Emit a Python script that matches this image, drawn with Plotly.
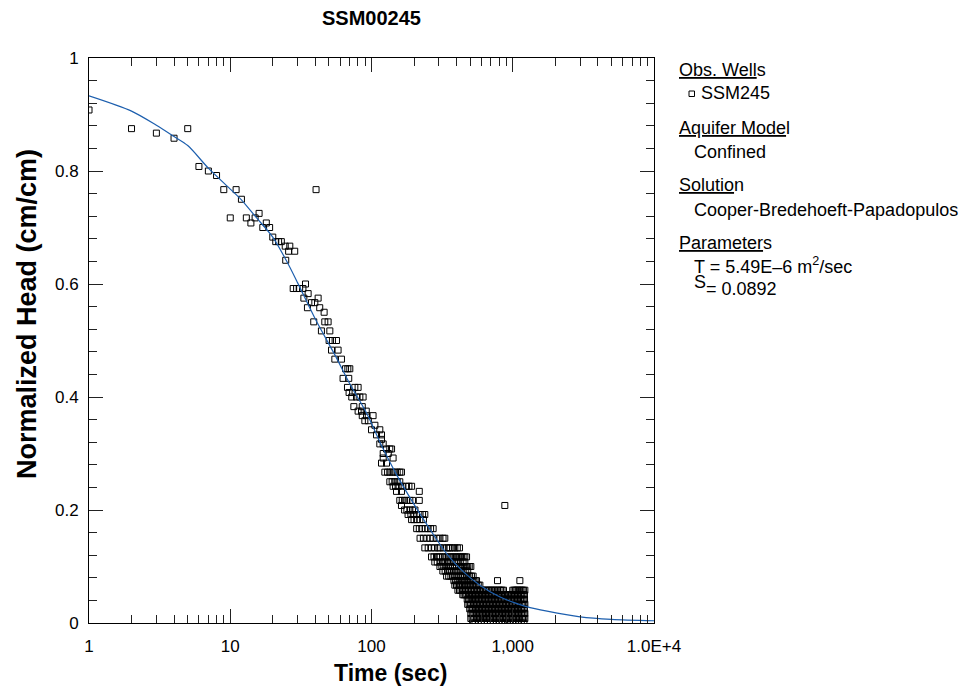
import plotly.graph_objects as go

# ---------------- data ----------------
early_time = [1, 2, 3, 4, 5, 6, 7, 8, 9, 10, 11, 12, 13, 14, 15, 16, 17, 18, 19, 20, 21, 22, 23, 40.5]
early_head = [0.908, 0.875, 0.867, 0.858, 0.875, 0.808, 0.800, 0.792, 0.767, 0.717, 0.767, 0.750,
              0.717, 0.708, 0.717, 0.725, 0.700, 0.708, 0.700, 0.683, 0.675, 0.675, 0.675, 0.767]

band_head = [0.667, 0.658, 0.642, 0.600, 0.592, 0.583, 0.575, 0.567, 0.558, 0.550, 0.533, 0.517,
             0.500, 0.483, 0.467, 0.450, 0.433, 0.417, 0.408, 0.400, 0.383, 0.375, 0.367, 0.358,
             0.350, 0.342, 0.333, 0.325, 0.317, 0.308, 0.300, 0.292, 0.283, 0.267, 0.250, 0.242,
             0.233, 0.217, 0.208, 0.200, 0.192, 0.183, 0.167, 0.150, 0.133, 0.117, 0.108, 0.100,
             0.092, 0.083, 0.075, 0.067, 0.058, 0.050, 0.042, 0.033, 0.025, 0.017, 0.008, 0.000]

band_times = [
    [24.5, 26.4], [25.9, 28.6], [24.7], [34.1], [27.9, 29.5, 31.0, 32.7], [35.6], [33.2, 41.9],
    [37.6, 39.7], [35.2, 43.0], [46.2], [39.0, 46.7, 49.3], [44.2, 50.7], [50.1, 52.9, 56.5],
    [52.1, 58.0], [55.0, 61.3], [65.5, 68.0, 70.2], [62.9, 69.0], [67.6, 76.2, 80.4], [69.4, 73.5],
    [72.5, 78.3, 82.7, 87.2], [75.0, 86.0], [80.4, 85.0, 91.8], [86.0, 92.2, 102.6], [89.7, 95.0],
    [105.7], [100.0, 114.5], [108.5, 117.7], [117.7], [114.5, 121.0], [127.7, 134.8, 138.7],
    [121.0, 131.4], [121.0, 142.2], [117.7, 127.7],
    [124.3, 130, 134.8, 140, 146.1, 152, 158.6, 163.0],
    [134.8, 140, 146.1, 152, 158.6],
    [142.2, 148, 154.3, 165, 176.8, 184, 192.2],
    [150.3, 163.0, 217.9],
    [158.6, 165, 171.5, 178, 186.8, 195, 217.9],
    [163.0, 879],
    [171.5, 178, 186.8, 195, 203.0],
    [181.5, 190, 197.5, 208, 220.7, 230, 238.5],
    [192.2, 200, 208.8, 220, 233.2],
    [208.8, 218, 226.9, 240, 251.6, 262, 273.1],
    [220.7, 233, 246.4, 260, 273.1, 290, 305, 321.0, 330.4],
    [238.5, 252, 266.0, 280, 296.3, 305.0, 322, 339.8, 350, 360.0, 375, 389.0, 405, 420.0],
    [266.0, 277, 288.6, 297, 305.0, 318, 330.4, 342, 355.0, 367, 378.5, 390, 400.0, 411, 422.0,
     433, 445.0, 458, 471.0],
    [280.7, 292, 305.0, 318, 330.0, 345, 358.5, 372, 385.0, 398, 410.0, 428, 445.0, 458.0],
    [305, 315, 325, 337, 350, 362, 375, 388, 400, 415, 430, 445, 460, 470, 480, 492, 505],
    [320, 332, 345, 357, 370, 384, 398, 411, 425, 437, 450, 465, 480],
    [340, 352, 365, 377, 390, 403, 415, 428, 440, 455, 470, 482, 495, 510, 524],
    [383, 394, 405, 417, 430, 442, 455, 467, 480, 492, 505, 517, 530, 542, 554, 780, 1123],
    [389, 400, 410, 420, 430, 442, 455, 467, 480, 492, 505, 517, 530, 542, 555, 570, 585],
    [409, 420, 430, 441, 452, 463, 475, 487, 500, 512, 525, 538, 552, 565, 578, 592, 607, 622,
     640, 656, 672, 688, 705, 722, 740, 760, 780, 800, 820, 840, 860, 1000, 1022, 1045, 1068,
     1090, 1115, 1140, 1165, 1190, 1218],
    [443, 452, 462, 473, 485, 496, 508, 520, 532, 545, 558, 571, 585, 598, 612, 627, 642, 657,
     672, 688, 705, 722, 740, 757, 775, 793, 812, 832, 852, 872, 893, 914, 935, 957, 980, 1004,
     1028, 1053, 1078, 1104, 1130, 1157, 1185, 1210],
    [476, 487, 498, 509, 520, 532, 545, 558, 572, 585, 598, 613, 628, 643, 658, 674, 690, 706,
     723, 740, 758, 776, 795, 814, 833, 853, 873, 894, 915, 937, 960, 983, 1006, 1030, 1055,
     1080, 1105, 1132, 1160, 1186, 1212],
    [480, 491, 503, 515, 528, 540, 553, 566, 580, 594, 608, 622, 637, 652, 668, 684, 700, 717,
     734, 751, 769, 787, 806, 825, 845, 865, 886, 907, 928, 950, 973, 996, 1020, 1045, 1070,
     1095, 1121, 1148, 1175, 1200, 1218],
    [496, 508, 520, 532, 545, 558, 571, 584, 598, 612, 627, 642, 657, 673, 689, 705, 722, 739,
     757, 775, 793, 812, 831, 851, 871, 892, 913, 935, 957, 980, 1003, 1027, 1052, 1077, 1102,
     1128, 1155, 1182, 1210],
    [505, 517, 530, 542, 555, 568, 582, 596, 610, 625, 640, 655, 670, 686, 702, 719, 736, 754,
     772, 790, 809, 828, 848, 868, 889, 910, 932, 954, 977, 1000, 1024, 1048, 1073, 1099, 1125,
     1152, 1180, 1205, 1218],
    [505, 516, 528, 540, 553, 566, 580, 594, 608, 622, 637, 652, 667, 683, 699, 716, 733, 750,
     768, 786, 805, 824, 844, 864, 884, 905, 927, 949, 971, 994, 1018, 1042, 1067, 1092, 1118,
     1145, 1172, 1198, 1218],
    [520, 540, 570, 600, 630, 660, 695, 730, 765, 800, 840, 880, 920, 960, 1005, 1050, 1100,
     1150, 1200],
]

model_time = [1, 2, 3, 4, 5, 7, 10, 12, 15, 20, 25, 30, 40, 56, 70, 92, 120, 150, 200, 250,
              340, 450, 585, 800, 1000, 1250, 1750, 3000, 5000, 10000]
model_head = [0.933, 0.906, 0.881, 0.861, 0.845, 0.805, 0.768, 0.749, 0.720, 0.683, 0.641,
              0.602, 0.538, 0.471, 0.424, 0.372, 0.310, 0.263, 0.210, 0.172, 0.123, 0.090,
              0.067, 0.047, 0.037, 0.029, 0.021, 0.011, 0.0065, 0.004]

x_tick_vals = [1, 10, 100, 1000, 10000]
x_tick_text = ["1", "10", "100", "1,000", "1.0E+4"]
y_tick_vals = [0, 0.2, 0.4, 0.6, 0.8, 1.0]
y_tick_text = ["0", "0.2", "0.4", "0.6", "0.8", "1"]

# ---------------- build ----------------
obs_time = list(early_time)
obs_head = list(early_head)
for h, ts in zip(band_head, band_times):
    for t in ts:
        obs_time.append(t)
        obs_head.append(h)

FONT = "Arial, 'Liberation Sans', Helvetica, sans-serif"
TICK_COLOR = "#222222"

fig = go.Figure()
fig.add_trace(go.Scatter(
    x=obs_time, y=obs_head, mode="markers",
    marker=dict(symbol="square-open", size=6, color="black", line=dict(width=1, color="black")),
    hoverinfo="skip", showlegend=False))
fig.add_trace(go.Scatter(
    x=model_time, y=model_head, mode="lines",
    line=dict(color="#1d5fae", width=1.2, shape="spline", smoothing=0.8),
    hoverinfo="skip", showlegend=False))

minor_x = [m * 10 ** d for d in range(4) for m in range(2, 10)]

axis_common = dict(showline=True, linecolor="black", linewidth=1, mirror="allticks",
                   ticks="inside", ticklen=14, tickwidth=1, tickcolor=TICK_COLOR,
                   showgrid=False, zeroline=False,
                   tickfont=dict(family=FONT, size=17, color="black"))

fig.update_xaxes(type="log", range=[0, 4], tickmode="array", tickvals=x_tick_vals,
                 ticktext=x_tick_text,
                 minor=dict(ticks="inside", ticklen=8, tickwidth=1, tickcolor=TICK_COLOR,
                            tickmode="array", tickvals=minor_x, showgrid=False),
                 ticklabelstandoff=8, **axis_common)
fig.update_yaxes(range=[0, 1], tickmode="array", tickvals=y_tick_vals, ticktext=y_tick_text,
                 minor=dict(ticks="inside", ticklen=8, tickwidth=1, tickcolor=TICK_COLOR,
                            dtick=0.04, tick0=0, showgrid=False),
                 ticklabelstandoff=6, **axis_common)

fig.update_layout(
    width=970, height=696,
    margin=dict(l=89, r=316, t=58, b=73),
    paper_bgcolor="white", plot_bgcolor="white",
    font=dict(family=FONT, size=17, color="black"),
    title=dict(text="<b>SSM00245</b>", x=0.5, xref="paper", xanchor="center",
               y=1 - 18 / 696, yref="container", yanchor="middle",
               font=dict(family=FONT, size=20, color="black")),
    showlegend=False,
)

def px_x(p):
    return (p - 89) / (654 - 89)

def px_y(p):
    return (623 - p) / (623 - 58)

# axis titles
fig.add_annotation(text="<b>Time (sec)</b>", xref="paper", yref="paper",
                   x=px_x(390), y=px_y(673), xanchor="center", yanchor="middle",
                   showarrow=False, font=dict(family=FONT, size=23, color="black"))
fig.add_annotation(text="<b>Normalized Head (cm/cm)</b>", xref="paper", yref="paper",
                   x=px_x(27), y=px_y(314), xanchor="center", yanchor="middle", textangle=-90,
                   showarrow=False, font=dict(family=FONT, size=27, color="black"))

# right-hand legend text
legend_items = [
    ("<u>Obs. Well</u>s", 676.7, 70),
    ("SSM245", 699, 93.5),
    ("<u>Aquifer Mode</u>l", 676.7, 128.5),
    ("Confined", 691.7, 152),
    ("<u>Solutio</u>n", 676.7, 185),
    ("Cooper-Bredehoeft-Papadopulos", 691.7, 210),
    ("<u>Parameter</u>s", 676.7, 243),
    ("T = 5.49E\u20136 m<sup>2</sup>/sec", 691.7, 265.5),
    ("S", 691.7, 282),
    ("= 0.0892", 704, 289),
]
for txt, xp, yp in legend_items:
    fig.add_annotation(text=txt, xref="paper", yref="paper", x=px_x(xp), y=px_y(yp),
                       xanchor="left", yanchor="middle", showarrow=False,
                       font=dict(family=FONT, size=18, color="black"))

fig.add_shape(type="rect", xref="paper", yref="paper",
              x0=px_x(689), x1=px_x(694.5), y0=px_y(96.5), y1=px_y(91),
              line=dict(color="black", width=1), fillcolor="white")

fig.write_html("out.html")
